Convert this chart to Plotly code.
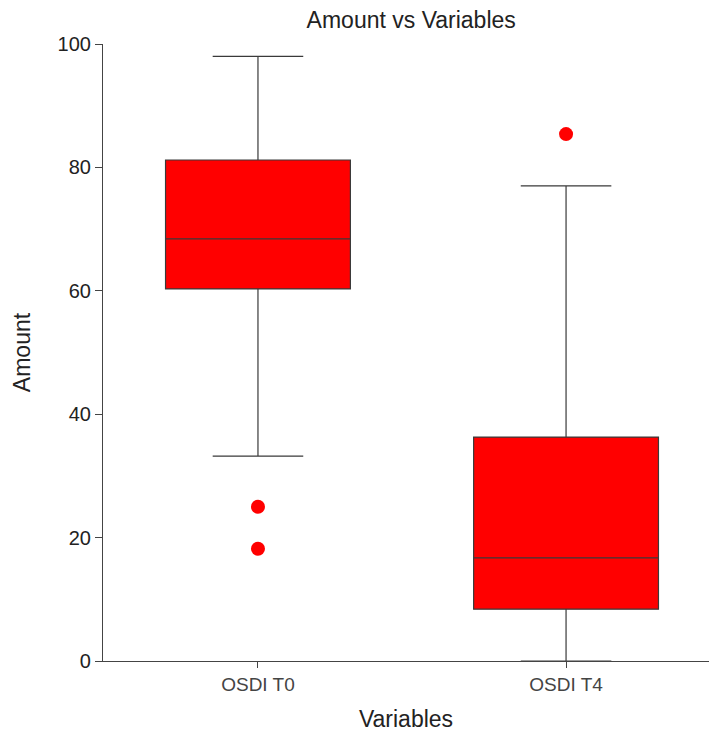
import plotly.graph_objects as go

categories = ["OSDI T0", "OSDI T4"]
q1 = [60.3, 8.4]
median = [68.4, 16.7]
q3 = [81.2, 36.3]
lower_fence = [33.2, 0.0]
upper_fence = [98.0, 77.0]
outlier_x = ["OSDI T0", "OSDI T0", "OSDI T4"]
outlier_y = [25.0, 18.2, 85.4]

font_family = "Liberation Sans, Arial, sans-serif"

fig = go.Figure()
fig.add_trace(go.Box(
    x=categories,
    q1=q1, median=median, q3=q3,
    lowerfence=lower_fence, upperfence=upper_fence,
    fillcolor="#ff0000",
    line=dict(color="#3a3a3a", width=1.2),
    whiskerwidth=0.49,
    width=0.6,
    boxpoints=False,
    showlegend=False,
))
fig.add_trace(go.Scatter(
    x=outlier_x, y=outlier_y, mode="markers",
    marker=dict(color="#ff0000", size=14),
    showlegend=False,
))

fig.update_layout(
    width=709, height=733,
    margin=dict(l=103, r=0, t=44, b=72),
    paper_bgcolor="white", plot_bgcolor="white",
    font=dict(family=font_family, color="#222"),
    title=dict(text="Amount vs Variables", x=0.58, xref="container", xanchor="center",
               y=0.973, yref="container", yanchor="middle", font=dict(size=23, color="#222")),
)
fig.update_xaxes(
    type="category", range=[-0.503, 1.464],
    showline=True, linecolor="#444", linewidth=1.2,
    ticks="outside", ticklen=6, tickcolor="#444",
    showgrid=False, zeroline=False,
    tickfont=dict(size=19, color="#444"),
    title=dict(text="Variables", font=dict(size=23, color="#222"), standoff=16),
)
fig.update_yaxes(
    range=[0, 100], tickvals=[0, 20, 40, 60, 80, 100],
    showline=True, linecolor="#444", linewidth=1.2,
    ticks="outside", ticklen=7, tickcolor="#444",
    showgrid=False, zeroline=False,
    tickfont=dict(size=20, color="#222"),
    title=dict(text="Amount", font=dict(size=23, color="#222"), standoff=20),
)

fig.write_html(
    "out.html",
    config={"displayModeBar": False},
    post_script="document.body.style.margin='0';document.body.style.overflow='hidden';",
)
